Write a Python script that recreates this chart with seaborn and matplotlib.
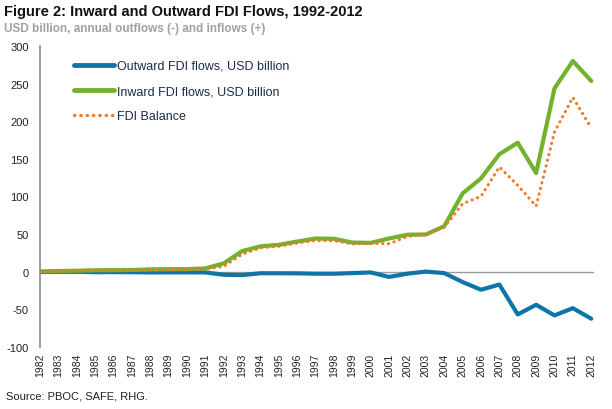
import matplotlib
matplotlib.use("Agg")
import matplotlib.pyplot as plt
import seaborn as sns
import pandas as pd
from matplotlib.lines import Line2D

years = list(range(1982, 2013))
outward = [-0.4, -0.1, -0.1, -0.6, -0.5, -0.6, -0.9, -0.8, -0.8, -0.9,
           -4.0, -4.4, -2.0, -2.0, -2.1, -2.6, -2.6, -1.8, -0.9, -6.9,
           -2.5, 0.2, -1.8, -13.7, -23.9, -17.0, -56.7, -43.9, -58.0, -48.4, -62.4]
inward = [0.4, 0.9, 1.4, 2.0, 2.2, 2.3, 3.2, 3.4, 3.5, 4.4,
          11.2, 27.5, 33.8, 35.8, 40.2, 44.2, 43.8, 38.8, 38.4, 44.2,
          49.3, 49.5, 60.6, 104.1, 124.1, 156.2, 171.5, 131.1, 243.7, 280.1, 253.5]
balance = [0.0, 0.8, 1.3, 1.4, 1.7, 1.7, 2.3, 2.6, 2.7, 3.5,
           7.2, 23.1, 31.8, 33.8, 38.1, 41.6, 41.2, 37.0, 37.5, 37.3,
           46.8, 49.7, 58.8, 90.4, 100.2, 139.2, 114.8, 87.2, 185.7, 231.7, 191.1]
series_names = ["Outward FDI flows, USD billion", "Inward FDI flows, USD billion", "FDI Balance"]
yticks = [300, 250, 200, 150, 100, 50, 0, -50, -100]

df = pd.DataFrame({
    "year": years * 3,
    "value": outward + inward + balance,
    "series": [series_names[0]] * len(years) + [series_names[1]] * len(years) + [series_names[2]] * len(years),
})

sns.set_theme(style="white")
plt.rcParams["font.family"] = ["Liberation Sans", "DejaVu Sans"]

fig = plt.figure(figsize=(6.12, 4.10), dpi=100)
ax = fig.add_axes([40 / 612, 1 - 348 / 410, (594 - 40) / 612, (348 - 47) / 410])

ax.axhline(0, color="#9a9a9a", lw=1.0, zorder=1)

palette = {series_names[0]: "#0f75a8", series_names[1]: "#72b22c", series_names[2]: "#ec7a2c"}
sizes = {series_names[0]: 3.0, series_names[1]: 3.0, series_names[2]: 2.2}
dashes = {series_names[0]: "", series_names[1]: "", series_names[2]: (0.1, 1.8)}

sns.lineplot(data=df, x="year", y="value", hue="series", hue_order=series_names,
             palette=palette, size="series", sizes=sizes, size_order=series_names,
             style="series", dashes=dashes, style_order=series_names, ax=ax, legend=False)
for line in ax.lines[1:]:
    line.set_dash_capstyle("round")

ax.set_xlim(1982, 2012.15)
ax.set_ylim(-100, 300)
ax.set_yticks(yticks)
ax.set_yticklabels([str(v) for v in yticks], fontsize=8, color="#222222")
ax.set_xticks(years)
ax.set_xticklabels([str(y) for y in years], rotation=90, fontsize=7.5, color="#222222")
ax.tick_params(axis="x", length=0, pad=4)
ax.tick_params(axis="y", length=0, pad=8)
ax.set_xlabel("")
ax.set_ylabel("")
for s in ["top", "right", "bottom"]:
    ax.spines[s].set_visible(False)
ax.spines["left"].set_color("#8a8a8a")
ax.spines["left"].set_linewidth(1.2)

handles = [
    Line2D([0], [0], color=palette[series_names[0]], lw=3.5),
    Line2D([0], [0], color=palette[series_names[1]], lw=3.5),
    Line2D([0], [0], color=palette[series_names[2]], lw=2.4, linestyle=(0, (0.1, 1.8)), dash_capstyle="round"),
]
leg = ax.legend(handles, series_names, loc="upper left", bbox_to_anchor=(0.045, 0.985),
                frameon=False, fontsize=9, handlelength=3.2, handletextpad=0.2,
                labelspacing=1.05, borderaxespad=0.35)
for t in leg.get_texts():
    t.set_color("#1c2b4a")

fig.text(4 / 612, 1 - 12 / 410, "Figure 2: Inward and Outward FDI Flows, 1992-2012",
         fontsize=10.5, fontweight="bold", color="#111111", va="center", ha="left")
fig.text(4 / 612, 1 - 29 / 410, "USD billion, annual outflows (-) and inflows (+)",
         fontsize=8.5, fontweight="bold", color="#a0a0a0", va="center", ha="left")
fig.text(6 / 612, 1 - 397 / 410, "Source: PBOC, SAFE, RHG.",
         fontsize=8, color="#222222", va="center", ha="left")

fig.savefig("out.png", dpi=100)
